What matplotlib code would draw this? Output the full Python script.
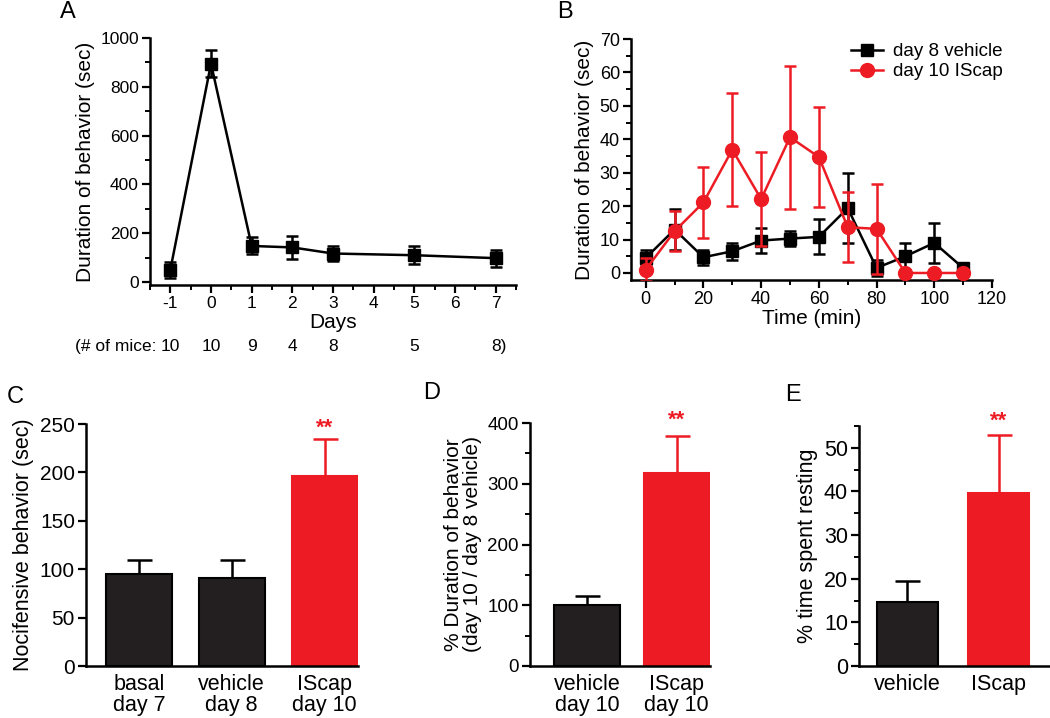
import matplotlib
matplotlib.use('Agg')
import matplotlib.pyplot as plt
from matplotlib.ticker import MultipleLocator
from matplotlib.lines import Line2D
import matplotlib.transforms as mtrans

plt.rcParams['font.family'] = ['Liberation Sans', 'DejaVu Sans']
plt.rcParams['font.size'] = 12
plt.rcParams['axes.unicode_minus'] = False

RED = '#ed1c24'
DARK = '#231f20'

# panel A
days = [-1, 0, 1, 2, 3, 5, 7]
dur_a = [50, 895, 148, 142, 117, 110, 98]
err_a = [32, 55, 35, 48, 30, 37, 35]
mice = ['10', '10', '9', '4', '8', '5', '8)']

# panel B
time_min = [0, 10, 20, 30, 40, 50, 60, 70, 80, 90, 100, 110]
veh8 = [4.5, 13, 4.7, 6.5, 9.7, 10.3, 10.8, 19.4, 1.5, 5, 9, 1.5]
veh8_err = [2.5, 6, 2.3, 2.5, 3.7, 2.2, 5.2, 10.5, 2.5, 4, 6, 0.5]
iscap10 = [1, 12.5, 21.1, 36.9, 22.1, 40.6, 34.7, 13.7, 13.2, 0, 0, 0]
iscap10_err = [3.5, 6, 10.5, 17, 14, 21.4, 15, 10.4, 13.5, 0, 0, 0]

# panel C
c_labels = ['basal\nday 7', 'vehicle\nday 8', 'IScap\nday 10']
c_vals = [95, 90.5, 196]
c_err = [14.5, 19, 38]

# panel D
d_labels = ['vehicle\nday 10', 'IScap\nday 10']
d_vals = [101, 318]
d_err = [13.5, 60]

# panel E
e_labels = ['vehicle', 'IScap']
e_vals = [14.6, 39.7]
e_err = [4.8, 13.2]

W, H = 1050, 718
fig = plt.figure(figsize=(W / 100, H / 100), dpi=100)


def px_axes(left, right, top, bottom):
    return fig.add_axes([left / W, (H - bottom) / H, (right - left) / W, (bottom - top) / H])


def style(ax, size=13):
    for s in ['top', 'right']:
        ax.spines[s].set_visible(False)
    for s in ['left', 'bottom']:
        ax.spines[s].set_linewidth(1.8)
    ax.tick_params(which='major', direction='out', length=6, width=1.6, labelsize=size, pad=2)
    ax.tick_params(which='minor', direction='out', length=3.5, width=1.4)


# ---- A
ax = px_axes(150, 516, 38, 285)
ax.errorbar(days, dur_a, yerr=err_a, color='black', marker='s', ms=8.5, lw=1.8,
            capsize=4, capthick=1.8, elinewidth=1.8)
ax.set_xlim(-1.5, 7.5)
ax.set_ylim(-12, 1000)
ax.set_xticks(range(-1, 8))
ax.xaxis.set_minor_locator(MultipleLocator(0.5))
ax.yaxis.set_major_locator(MultipleLocator(200))
ax.yaxis.set_minor_locator(MultipleLocator(100))
style(ax, 12.5)
ax.set_xlabel('Days', fontsize=15, labelpad=1)
ax.set_ylabel('Duration of behavior (sec)', fontsize=15, labelpad=4)
tr = mtrans.blended_transform_factory(ax.transData, ax.transAxes)
ax.text(-1.33, -0.25, '(# of mice:', transform=tr, ha='right', va='center', fontsize=12.5)
for d, m in zip(days, mice):
    ax.text(d + (0.07 if m.endswith(')') else 0), -0.25, m, transform=tr,
            ha='center', va='center', fontsize=12.5)
fig.text(68 / W, 1 - 12 / H, 'A', fontsize=17, ha='center', va='center')

# ---- B
ax = px_axes(631, 992, 39, 280)
ax.errorbar(time_min, veh8, yerr=veh8_err, color='black', marker='s', ms=8.5, lw=1.8,
            capsize=4, capthick=1.8, elinewidth=1.8, zorder=3)
ax.errorbar(time_min, iscap10, yerr=iscap10_err, color=RED, marker='o', ms=10, lw=1.8,
            capsize=4, capthick=1.8, elinewidth=1.8, zorder=4)
ax.set_xlim(-5.1, 120)
ax.set_ylim(-2.1, 70)
ax.xaxis.set_major_locator(MultipleLocator(20))
ax.xaxis.set_minor_locator(MultipleLocator(10))
ax.yaxis.set_major_locator(MultipleLocator(10))
ax.yaxis.set_minor_locator(MultipleLocator(5))
style(ax, 13)
ax.set_xlabel('Time (min)', fontsize=15, labelpad=1)
ax.set_ylabel('Duration of behavior (sec)', fontsize=15, labelpad=4)
handles = [Line2D([], [], color='black', marker='s', ms=8.5, lw=1.8),
           Line2D([], [], color=RED, marker='o', ms=10, lw=1.8)]
ax.legend(handles, ['day 8 vehicle', 'day 10 IScap'], loc='upper right',
          bbox_to_anchor=(1.06, 1.03), frameon=False, fontsize=13.5,
          handlelength=1.7, handletextpad=0.5, labelspacing=0.15, borderaxespad=0.2)
fig.text(565 / W, 1 - 12 / H, 'B', fontsize=17, ha='center', va='center')


def bar_panel(ax, labels, vals, errs, colors, width):
    x = list(range(len(vals)))
    for xi, v, e, c in zip(x, vals, errs, colors):
        edge = 'black' if c == DARK else RED
        ax.bar(xi, v, width=width, color=c, edgecolor=edge, lw=1.5, zorder=2)
        ax.errorbar(xi, v, yerr=[[0], [e]], color='black' if c == DARK else RED,
                    lw=1.8, capsize=9, capthick=1.8, zorder=1)
    ax.set_xticks(x)
    ax.set_xticklabels(labels, fontsize=15, linespacing=1.0)


# ---- C
ax = px_axes(86, 358, 424, 666)
bar_panel(ax, c_labels, c_vals, c_err, [DARK, DARK, RED], 0.71)
ax.set_xlim(-0.57, 2.36)
ax.set_ylim(0, 250)
ax.yaxis.set_major_locator(MultipleLocator(50))
style(ax, 15)
ax.tick_params(axis='x', length=0, pad=6, labelsize=15.5)
ax.set_ylabel('Nocifensive behavior (sec)', fontsize=15.5, labelpad=4)
ax.text(2, 246, '**', color=RED, ha='center', va='center', fontsize=16, fontweight='bold')
fig.text(15 / W, 1 - 397 / H, 'C', fontsize=17, ha='center', va='center')

# ---- D
ax = px_axes(530, 710, 423, 666)
bar_panel(ax, d_labels, d_vals, d_err, [DARK, RED], 0.73)
ax.set_xlim(-0.635, 1.37)
ax.set_ylim(0, 400)
ax.yaxis.set_major_locator(MultipleLocator(100))
ax.yaxis.set_minor_locator(MultipleLocator(50))
style(ax, 13.5)
ax.tick_params(axis='x', length=0, pad=6, labelsize=15.5)
ax.set_ylabel('% Duration of behavior\n(day 10 / day 8 vehicle)', fontsize=15,
              labelpad=4, linespacing=1.0)
ax.text(1, 404, '**', color=RED, ha='center', va='center', fontsize=16, fontweight='bold',
        clip_on=False)
fig.text(432 / W, 1 - 393 / H, 'D', fontsize=17, ha='center', va='center')

# ---- E
ax = px_axes(859, 1050, 426, 666)
bar_panel(ax, e_labels, e_vals, e_err, [DARK, RED], 0.666)
ax.set_xlim(-0.526, 1.56)
ax.set_ylim(0, 55)
ax.yaxis.set_major_locator(MultipleLocator(10))
ax.yaxis.set_minor_locator(MultipleLocator(5))
style(ax, 15.5)
ax.tick_params(axis='x', length=0, pad=6, labelsize=15.5)
ax.set_ylabel('% time spent resting', fontsize=15.5, labelpad=4)
ax.text(1, 56.2, '**', color=RED, ha='center', va='center', fontsize=16,
        fontweight='bold', clip_on=False)
fig.text(793 / W, 1 - 395 / H, 'E', fontsize=17, ha='center', va='center')

fig.savefig('out.png', dpi=100)
